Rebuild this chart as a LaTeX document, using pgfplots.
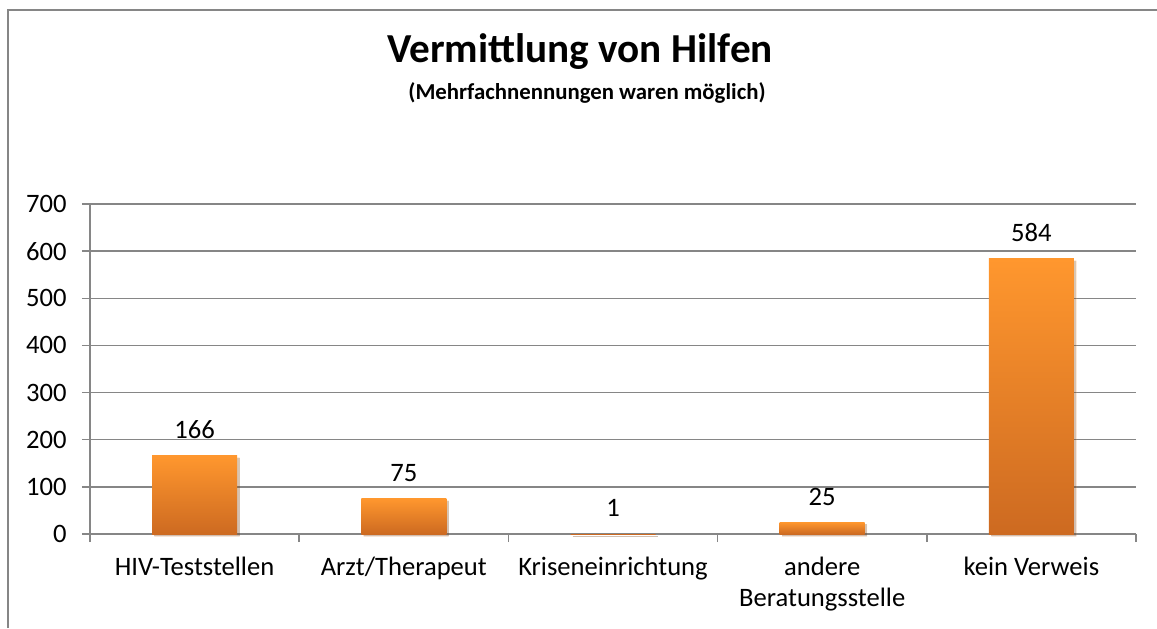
\documentclass[border=0pt]{standalone}
\usepackage{pgfplots}
\pgfplotsset{compat=1.18}
\usepackage{fontspec}
\setmainfont{Carlito}
\usetikzlibrary{shadows}
\definecolor{bartop}{RGB}{255,151,46}
\definecolor{barbot}{RGB}{205,106,33}
\definecolor{gridgray}{RGB}{134,134,134}
\definecolor{framegray}{RGB}{134,134,134}
\begin{document}
\begin{tikzpicture}
\useasboundingbox (0,0) rectangle (578.5pt,314pt);
\draw[framegray, line width=1pt] (3.75pt,0) -- (3.75pt,309pt) -- (578.5pt,309pt);
\node[anchor=base, inner sep=0pt, font=\fontsize{20.6}{24}\selectfont\bfseries] at (290pt,282.5pt) {Vermittlung von Hilfen};
\node[anchor=base, inner sep=0pt, font=\fontsize{11.4}{13}\selectfont\bfseries] at (293.5pt,264pt) {(Mehrfachnennungen waren möglich)};
\begin{axis}[
  at={(45pt,47pt)}, anchor=south west,
  scale only axis, width=523pt, height=165pt,
  xmin=-0.5, xmax=4.5, ymin=0, ymax=700,
  ybar, bar width=42.5pt,
  ytick={0,100,...,700},
  xtick={0,...,4},
  xticklabels={HIV-Teststellen, Arzt/Therapeut, Kriseneinrichtung, {andere\\Beratungsstelle}, kein Verweis},
  minor xtick={-0.5,0.5,...,4.5},
  axis x line*=bottom, axis y line*=left,
  axis line style={gridgray, line width=0.75pt, -},
  ymajorgrids, grid style={gridgray, line width=0.75pt},
  tick align=outside,
  major tick length=4pt, minor tick length=4pt,
  tick style={gridgray, line width=0.75pt},
  major x tick style={draw=none},
  /pgf/number format/assume math mode=true,
  tick label style={font=\fontsize{13.3}{15.2}\selectfont, text=black},
  xticklabel style={align=center, anchor=north, inner sep=0pt, yshift=-7.5pt},
  yticklabel style={anchor=east, inner sep=0pt, xshift=-7.5pt},
  nodes near coords,
  every node near coord/.append style={anchor=base, inner sep=0pt, yshift=8.5pt, font=\fontsize{13.3}{15}\selectfont, text=black},
  clip=false,
  barstyle/.style={draw=none, top color=bartop, bottom color=barbot, bar shift=0pt,
    drop shadow={shadow xshift=1.2pt, shadow yshift=-1pt, opacity=0.18, fill=black}},
]
\addplot[barstyle] coordinates {(0,166)};
\addplot[barstyle] coordinates {(1,75)};
\addplot[barstyle] coordinates {(2,1)};
\addplot[barstyle] coordinates {(3,25)};
\addplot[barstyle] coordinates {(4,584)};
\end{axis}
\end{tikzpicture}
\end{document}
